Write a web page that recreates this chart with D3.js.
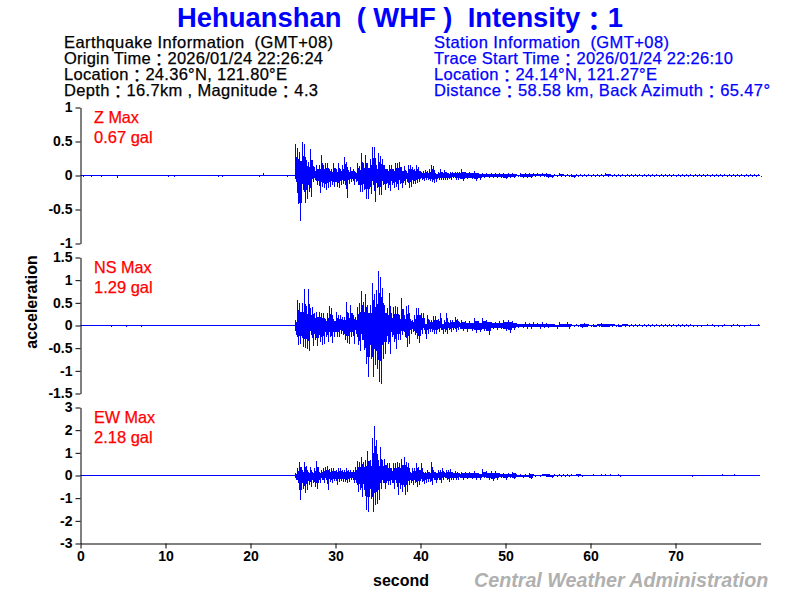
<!DOCTYPE html>
<html>
<head>
<meta charset="utf-8">
<script src="https://d3js.org/d3.v7.min.js"></script>
<style>
  html, body { margin: 0; padding: 0; background: #fff; }
  svg { display: block; }
  text { font-family: "Liberation Sans", "Noto Sans CJK JP", sans-serif; white-space: pre; }
  .info { font-size: 16.5px; stroke-width: 0.25px; }
</style>
</head>
<body>
<script>
// Header text
const titleText = "Hehuanshan  ( WHF )  Intensity：1";
const quakeLines = [
  "Earthquake Information  (GMT+08)",
  "Origin Time：2026/01/24 22:26:24",
  "Location：24.36°N, 121.80°E",
  "Depth：16.7km , Magnitude：4.3"
];
const stationLines = [
  "Station Information  (GMT+08)",
  "Trace Start Time：2026/01/24 22:26:10",
  "Location：24.14°N, 121.27°E",
  "Distance：58.58 km, Back Azimuth：65.47°"
];
// Widths the lines take in the picture
const quakeWidths = [269, 259, 223, 254];
const stationWidths = [235, 299, 223, 336];

// Tick labels
const zTicks = [-1, -0.5, 0, 0.5, 1];
const nsTicks = [-1.5, -1, -0.5, 0, 0.5, 1, 1.5];
const ewTicks = [-3, -2, -1, 0, 1, 2, 3];
const timeTicks = [0, 10, 20, 30, 40, 50, 60, 70];

// Envelope of each trace in gal.
// Main part starts at 25.25 s in 0.25 s steps, tail starts at 44.75 s in 0.5 s steps.
// "Down" values are the size of the negative swing.
const zUp = [.46,.41,.35,.49,.46,.23,.20,.39,.23,.12,.15,.16,.30,.16,.19,.19,.10,.09,.18,.09,.19,.10,.15,.27,.20,.08,.12,.10,.05,.18,.14,.33,.18,.30,.18,.25,.42,.42,.15,.33,.29,.25,.16,.10,.15,.15,.10,.18,.19,.20,.12,.14,.07,.15,.15,.13,.10,.15,.12,.05,.07,.08,.07,.09,.15,.14,.04,.05,.09,.05,.08,.05,.04,.05,.05,.05,.05,.05];
const zDown = [.09,.42,.67,.22,.40,.35,.24,.31,.09,.07,.14,.26,.17,.19,.22,.18,.17,.14,.17,.17,.19,.14,.12,.14,.33,.12,.09,.14,.09,.14,.24,.24,.22,.34,.34,.27,.14,.39,.19,.28,.28,.14,.21,.19,.23,.14,.19,.17,.21,.12,.19,.14,.09,.19,.17,.12,.13,.11,.09,.07,.08,.06,.06,.08,.09,.11,.09,.06,.07,.07,.06,.06,.05,.07,.04,.06,.07,.05];
const nsUp = [.12,.56,.49,.49,.80,.44,.80,.39,.41,.27,.30,.30,.27,.27,.15,.27,.44,.38,.15,.29,.24,.23,.19,.19,.51,.27,.45,.23,.19,.41,.49,.76,.51,.69,.45,.45,.93,.69,.78,1.20,1.06,.82,.45,.39,.71,.27,.41,.44,.41,.24,.60,.23,.44,.45,.15,.12,.23,.38,.39,.27,.27,.04,.24,.12,.12,.21,.21,.15,.27,.04,.12,.27,.08,.12,.12,.19,.15,.08];
const nsDown = [.21,.42,.40,.47,.49,.51,.56,.21,.45,.32,.45,.36,.42,.40,.25,.36,.25,.38,.25,.25,.25,.18,.21,.32,.38,.40,.25,.40,.18,.44,.57,.32,.55,.84,1.14,.73,1.14,.88,.95,1.25,1.29,.73,.62,.40,.62,.25,.36,.51,.32,.32,.21,.25,.47,.40,.18,.14,.21,.29,.38,.18,.10,.30,.18,.14,.14,.18,.18,.14,.10,.18,.14,.18,.10,.14,.10,.14,.10,.07];
const ewUp = [.09,.31,.60,.24,.60,.41,.16,.38,.16,.31,.65,.16,.24,.31,.38,.41,.27,.31,.31,.24,.31,.31,.24,.24,.31,.24,.24,.24,.38,.65,.60,.83,.60,.68,1.09,.68,1.64,2.18,1.56,.68,1.24,.68,.75,.53,.53,.31,.53,.53,.60,.53,.75,.80,.60,.53,.16,.31,.31,.53,.38,.53,.16,.16,.24,.16,.60,.24,.16,.24,.24,.31,.16,.24,.24,.27,.16,.21,.16,.09];
const ewDown = [.18,.35,1.09,.58,.77,.65,.43,.50,.35,.50,.58,.35,.21,.32,.21,.62,.28,.35,.24,.43,.28,.24,.28,.28,.35,.28,.21,.32,.35,.72,.65,.94,.65,1.54,1.61,1.02,1.61,1.31,1.24,1.09,.58,.35,.58,.43,.43,.35,.58,.35,.87,.58,.72,.87,.72,.43,.35,.43,.35,.50,.43,.28,.38,.35,.28,.28,.43,.21,.35,.21,.35,.21,.13,.18,.28,.21,.18,.21,.18,.09];

const zTailUp = [.09,.05,.05,.06,.04,.03,.03,.03,.03,.04,.03,.03,.03,.02,.04,.03,.03,.03,.03,.04,.03,.02,.02,.03,.02,.02,.02,.02,.02,.02,.015,.02,.015,.015,.03,.02,.015,.015,.015,.015,.02,.02,.015,.015,.015,.015,.015,.015,.015,.015,.015,.015,.015,.015,.015,.015,.015,.015,.015,.015,.015,.015,.015,.015,.015,.02,.015,.015,.015,.015,.015];
const zTailDown = [.08,.05,.05,.08,.06,.04,.03,.03,.03,.04,.05,.03,.03,.02,.03,.03,.03,.02,.02,.02,.03,.03,.02,.02,.02,.02,.03,.02,.02,.02,.02,.02,.02,.02,.015,.015,.02,.02,.02,.02,.015,.02,.02,.02,.015,.015,.02,.015,.02,.015,.015,.02,.015,.015,.015,.015,.015,.015,.015,.02,.015,.015,.015,.015,.015,.015,.02,.015,.015,.015,.015];
const nsTailUp = [.12,.10,.10,.17,.09,.16,.13,.08,.08,.10,.12,.13,.09,.05,.04,.07,.05,.07,.05,.07,.05,.04,.03,.07,.04,.07,.03,.03,.04,.05,.03,.03,.04,.05,.04,.04,.03,.03,.04,.03,.03,.03,.03,.03,.03,.03,.03,.03,.03,.03,.03,.03,.03,.03,.03,.02,.02,.02,.03,.03,.02,.02,.03,.02,.03,.03,.02,.02,.03,.02,.03];
const nsTailDown = [.12,.14,.12,.17,.15,.12,.20,.08,.10,.08,.12,.16,.09,.05,.05,.07,.07,.04,.07,.05,.05,.04,.07,.04,.04,.07,.03,.03,.05,.04,.03,.04,.03,.04,.04,.03,.03,.04,.03,.03,.03,.03,.03,.03,.03,.03,.03,.03,.03,.03,.03,.03,.03,.03,.03,.03,.03,.02,.02,.03,.03,.03,.02,.03,.02,.03,.03,.02,.02,.02,.02];
const ewTailUp = [.15,.15,.15,.20,.12,.28,.20,.20,.20,.10,.10,.12,.15,.06,.06,.06,.10,.06,.04,.08,.08,.04,.06,.05,.05,.06,.07,.08,.05,.04,.04,.06,.04,.05,.05,.05,.04,.05,.04,.04,.04,.04,.04,.04,.04,.04,.04,.04,.04,.04,0,0,0,0,0,0,0,0,0,0,0,0,0,0,0,0,0,0,0,0,0];
const ewTailDown = [.20,.15,.15,.18,.20,.10,.20,.25,.18,.10,.18,.10,.15,.08,.10,.08,.15,.05,.06,.04,.08,.10,.05,.06,.05,.05,.04,.06,.05,.04,.04,.04,.04,.04,.04,.04,.04,.05,.04,.04,.04,.04,.04,.04,.04,.04,.04,.04,.04,.04,0,0,0,0,0,0,0,0,0,0,0,0,0,0,0,0,0,0,0,0,0];

// Small isolated blips outside the envelopes: [second, gal]
const zBlips = [[.4,-.02],[1.3,-.02],[2.5,-.02],[4.3,-.03],[10.4,-.02],[11,-.02],[16.2,-.02],[16.7,-.02],[21.1,-.02],[21.5,.03],[24.4,-.02]];
const nsBlips = [[3.6,-.03],[5.4,-.04],[7.2,-.03]];
const ewBlips = [[72,-.05],[75.5,.05],[76.9,.05]];

const panels = [
  { name: "Z Max", peak: "0.67 gal", top: 107.5, max: 1, ticks: zTicks, up: zUp, down: zDown, tailUp: zTailUp, tailDown: zTailDown, blips: zBlips },
  { name: "NS Max", peak: "1.29 gal", top: 257.5, max: 1.5, ticks: nsTicks, up: nsUp, down: nsDown, tailUp: nsTailUp, tailDown: nsTailDown, blips: nsBlips },
  { name: "EW Max", peak: "2.18 gal", top: 407.5, max: 3, ticks: ewTicks, up: ewUp, down: ewDown, tailUp: ewTailUp, tailDown: ewTailDown, blips: ewBlips }
];

const panelHeight = 136, traceEnd = 79.94;
const mainStart = 25.25, mainStep = 0.25, tailStart = 44.75, tailStep = 0.5;
const coreShare = 0.6; // the solid middle of the trace, spikes reach past it

const svg = d3.select("body").append("svg")
  .attr("width", 800)
  .attr("height", 600);

const x = d3.scaleLinear().domain([0, 80]).range([80.5, 760.5]);

// Full width colons sit lower in the picture than in the font
function addText(sel, line) {
  line.split("：").forEach((part, i) => {
    if (i > 0) {
      sel.append("tspan").attr("dy", "0.14em").text("：");
      sel.append("tspan").attr("dy", "-0.14em").text(part);
    } else {
      sel.append("tspan").text(part);
    }
  });
  return sel;
}

panels.forEach(p => {
  const y = d3.scaleLinear().domain([-p.max, p.max]).range([p.top + panelHeight, p.top]);

  const rows = p.up.map((v, i) => ({ t: mainStart + i * mainStep, step: mainStep, up: v, down: p.down[i] }))
    .concat(p.tailUp.map((v, i) => ({ t: tailStart + i * tailStep, step: tailStep, up: v, down: p.tailDown[i] })));
  const outline = rows.concat([{ t: traceEnd, up: 0, down: 0 }]);

  const area = d3.area()
    .x(d => x(d.t))
    .y0(d => y(-d.down * coreShare))
    .y1(d => y(d.up * coreShare))
    .curve(d3.curveStepAfter);

  // Zero line of the trace
  svg.append("line")
    .attr("x1", x(0)).attr("x2", x(traceEnd))
    .attr("y1", y(0)).attr("y2", y(0))
    .attr("stroke", "#0000ff");

  // Solid middle
  svg.append("path")
    .datum(outline)
    .attr("d", area)
    .attr("fill", "#0000ff")
    .attr("shape-rendering", "crispEdges");

  // Up and down spikes sit side by side
  const trace = svg.append("g")
    .attr("stroke", "#0000ff")
    .attr("shape-rendering", "crispEdges");
  trace.selectAll(".up")
    .data(rows)
    .enter()
    .append("line")
      .attr("class", "up")
      .attr("x1", d => Math.round(x(d.t)) + 0.5).attr("x2", d => Math.round(x(d.t)) + 0.5)
      .attr("y1", y(0)).attr("y2", d => y(d.up));
  trace.selectAll(".down")
    .data(rows)
    .enter()
    .append("line")
      .attr("class", "down")
      .attr("x1", d => Math.round(x(d.t + d.step / 2)) + 0.5).attr("x2", d => Math.round(x(d.t + d.step / 2)) + 0.5)
      .attr("y1", y(0)).attr("y2", d => y(-d.down));

  trace.selectAll(".blip")
    .data(p.blips)
    .enter()
    .append("line")
      .attr("class", "blip")
      .attr("x1", d => x(d[0])).attr("x2", d => x(d[0]))
      .attr("y1", y(0))
      .attr("y2", d => y(d[1]));

  // Left axis
  const yAxis = svg.append("g")
    .attr("transform", "translate(80.5,0)")
    .call(d3.axisLeft(y).tickValues(p.ticks).tickFormat(d => d).tickSize(5).tickPadding(3).tickSizeOuter(0));
  yAxis.selectAll("text")
    .style("font-size", "14px")
    .style("font-weight", "bold")
    .style("font-family", "Liberation Sans");

  // Peak labels
  svg.append("text").attr("x", 94).attr("y", p.top + 15.5)
    .attr("fill", "#ff0000").attr("stroke", "#ff0000").attr("stroke-width", 0.25)
    .style("font-size", "16.2px").text(p.name);
  svg.append("text").attr("x", 94).attr("y", p.top + 35.5)
    .attr("fill", "#ff0000").attr("stroke", "#ff0000").attr("stroke-width", 0.25)
    .style("font-size", "16.5px").text(p.peak);
});

// Time axis
const xAxis = svg.append("g")
  .attr("transform", "translate(0,543.5)")
  .call(d3.axisBottom(x).tickValues(timeTicks).tickSize(5).tickPadding(3).tickSizeOuter(0));
xAxis.selectAll("text")
  .style("font-size", "14px")
  .style("font-weight", "bold")
  .style("font-family", "Liberation Sans");

// Title and info blocks
addText(svg.append("text").attr("x", 400).attr("y", 27)
  .attr("text-anchor", "middle")
  .attr("fill", "#0000ff")
  .style("font-size", "27.4px").style("font-weight", "bold"), titleText);

quakeLines.forEach((line, i) => {
  addText(svg.append("text").attr("class", "info").attr("x", 64).attr("y", 48 + i * 16)
    .attr("textLength", quakeWidths[i])
    .attr("fill", "#000").attr("stroke", "#000"), line);
});
stationLines.forEach((line, i) => {
  addText(svg.append("text").attr("class", "info").attr("x", 434).attr("y", 48 + i * 16)
    .attr("textLength", stationWidths[i])
    .attr("fill", "#0000ff").attr("stroke", "#0000ff"), line);
});

// Axis titles and credit
svg.append("text")
  .attr("transform", "translate(37,302)rotate(-90)")
  .attr("text-anchor", "middle")
  .style("font-size", "16px").style("font-weight", "bold")
  .text("acceleration");
svg.append("text").attr("x", 401).attr("y", 586)
  .attr("text-anchor", "middle")
  .style("font-size", "16px").style("font-weight", "bold")
  .text("second");
svg.append("text").attr("x", 474).attr("y", 587)
  .attr("fill", "#b0b0b0")
  .style("font-size", "19.7px").style("font-weight", "bold").style("font-style", "italic")
  .text("Central Weather Administration");
</script>
</body>
</html>
